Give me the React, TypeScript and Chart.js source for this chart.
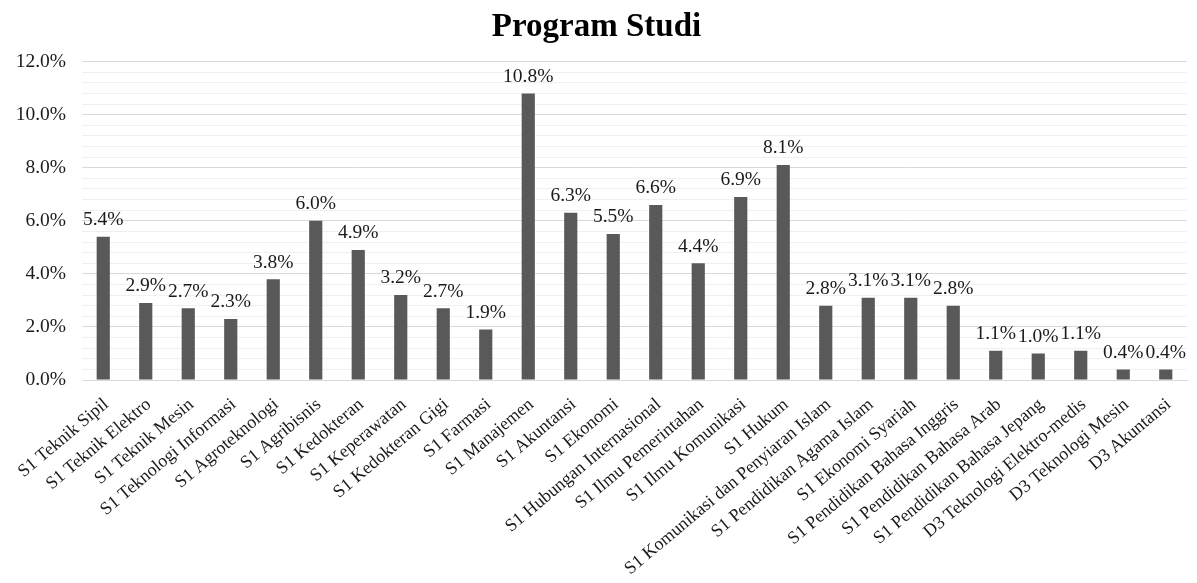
import React, { useEffect, useRef } from "react";
import { Chart, registerables } from "chart.js";

Chart.register(...registerables);

const TITLE = "Program Studi";
const categories = [
  "S1 Teknik Sipil",
  "S1 Teknik Elektro",
  "S1 Teknik Mesin",
  "S1 Teknologi Informasi",
  "S1 Agroteknologi",
  "S1 Agribisnis",
  "S1 Kedokteran",
  "S1 Keperawatan",
  "S1 Kedokteran Gigi",
  "S1 Farmasi",
  "S1 Manajemen",
  "S1 Akuntansi",
  "S1 Ekonomi",
  "S1 Hubungan Internasional",
  "S1 Ilmu Pemerintahan",
  "S1 Ilmu Komunikasi",
  "S1 Hukum",
  "S1 Komunikasi dan Penyiaran Islam",
  "S1 Pendidikan Agama Islam",
  "S1 Ekonomi Syariah",
  "S1 Pendidikan Bahasa Inggris",
  "S1 Pendidikan Bahasa Arab",
  "S1 Pendidikan Bahasa Jepang",
  "D3 Teknologi Elektro-medis",
  "D3 Teknologi Mesin",
  "D3 Akuntansi",
];
const values = [
  5.4, 2.9, 2.7, 2.3, 3.8, 6.0, 4.9, 3.2, 2.7, 1.9, 10.8, 6.3, 5.5, 6.6, 4.4,
  6.9, 8.1, 2.8, 3.1, 3.1, 2.8, 1.1, 1.0, 1.1, 0.4, 0.4,
];
const yMin = 0;
const yMax = 12;
const yStep = 0.4;

const FONT = "'Liberation Serif', 'Times New Roman', serif";

const isMajor = (v: number) => Math.abs(v / 2 - Math.round(v / 2)) < 1e-6;

const dataLabelPlugin = {
  id: "dataLabels",
  afterDatasetsDraw(chart: any) {
    const ctx = chart.ctx;
    const meta = chart.getDatasetMeta(0);
    ctx.save();
    ctx.font = `19.5px ${FONT}`;
    ctx.fillStyle = "#1a1a1a";
    ctx.textAlign = "center";
    ctx.textBaseline = "bottom";
    meta.data.forEach((bar: any, i: number) => {
      ctx.fillText(values[i].toFixed(1) + "%", bar.x, bar.y - 7);
    });
    ctx.restore();
  },
};

export default function App() {
  const ref = useRef<HTMLCanvasElement>(null);
  useEffect(() => {
    if (!ref.current) return;
    const chart = new Chart(ref.current, {
      type: "bar",
      data: {
        labels: categories,
        datasets: [
          {
            data: values,
            backgroundColor: "#595959",
            barPercentage: 0.31,
            categoryPercentage: 1,
          },
        ],
      },
      options: {
        animation: false,
        responsive: true,
        maintainAspectRatio: false,
        layout: { padding: { left: 6, right: 10, top: 6, bottom: 0 } },
        plugins: {
          legend: { display: false },
          tooltip: { enabled: false },
          title: {
            display: true,
            text: TITLE,
            color: "#000000",
            font: { family: FONT, size: 33, weight: "bold" },
            padding: { top: 2, bottom: 14 },
          },
        },
        scales: {
          x: {
            grid: { display: false, drawTicks: false },
            border: { display: true, color: "#d9d9d9", width: 1 },
            afterFit: (s: any) => {
              s.height = 203;
            },
            ticks: {
              color: "#1a1a1a",
              font: { family: FONT, size: 18 },
              maxRotation: 40,
              minRotation: 40,
              autoSkip: false,
              padding: 14,
              labelOffset: 3,
            },
          },
          y: {
            min: yMin,
            max: yMax,
            border: { display: false },
            afterFit: (s: any) => {
              s.width = 76;
            },
            grid: {
              drawTicks: false,
              color: (c: any) => (isMajor(c.tick.value) ? "#d9d9d9" : "#f0f0f0"),
              lineWidth: 1,
            },
            ticks: {
              stepSize: yStep,
              autoSkip: false,
              padding: 16,
              color: "#1a1a1a",
              font: { family: FONT, size: 19.5 },
              callback: (v: any) => (isMajor(Number(v)) ? Number(v).toFixed(1) + "%" : ""),
            },
          },
        },
      },
      plugins: [dataLabelPlugin],
    });
    return () => chart.destroy();
  }, []);
  return (
    <div style={{ position: "fixed", left: 0, top: 0, width: "100vw", height: "100vh", background: "#fff" }}>
      <canvas ref={ref} />
    </div>
  );
}
